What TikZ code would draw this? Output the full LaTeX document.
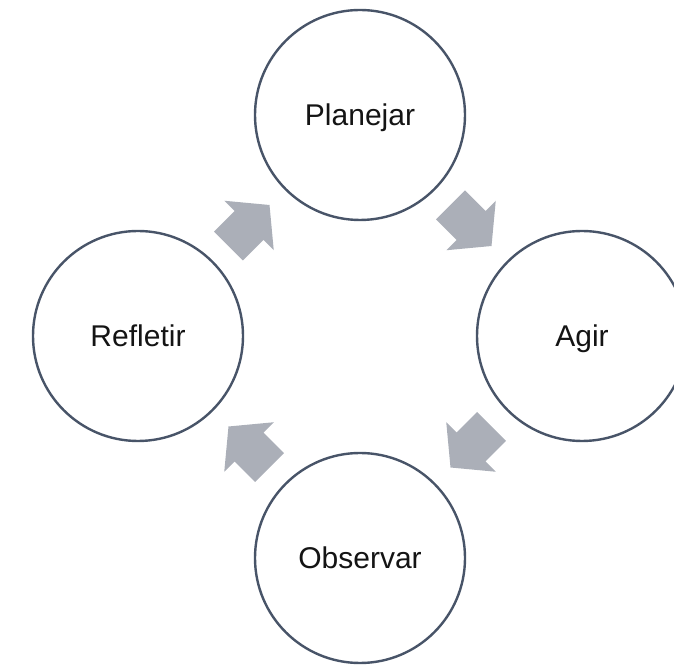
\documentclass[tikz,border=0pt]{standalone}
\usepackage{fontspec}
\setmainfont{Liberation Sans}
\definecolor{ringcol}{RGB}{72,84,104}
\definecolor{arrowcol}{RGB}{171,175,184}
\definecolor{textcol}{RGB}{20,20,20}
\begin{document}
\begin{tikzpicture}[x=1pt,y=1pt,
  stage/.style={circle,draw=ringcol,line width=2.4pt,fill=white,minimum size=210pt,inner sep=0pt,
    text height=22pt,text depth=0pt,text=textcol,font=\fontsize{30}{36}\selectfont},
  blockarrow/.style={fill=arrowcol,draw=none}]
\useasboundingbox (0,0) rectangle (674,666);
\clip (0,0) rectangle (674,666);
\node[stage] (plan) at (360,551) {Planejar};
\node[stage] (agir) at (582,330) {Agir};
\node[stage] (obs)  at (360,108) {Observar};
\node[stage] (ref)  at (138,330) {Refletir};
\foreach \cx/\cy/\ang in {249/440.5/45, 471/440.5/-45, 471/219/-135, 249/219/135}{
  \fill[blockarrow,shift={(\cx,\cy)},rotate=\ang]
    (-29,-20.5) -- (0,-20.5) -- (0,-35) -- (29,0) -- (0,35) -- (0,20.5) -- (-29,20.5) -- cycle;
}
\end{tikzpicture}
\end{document}
